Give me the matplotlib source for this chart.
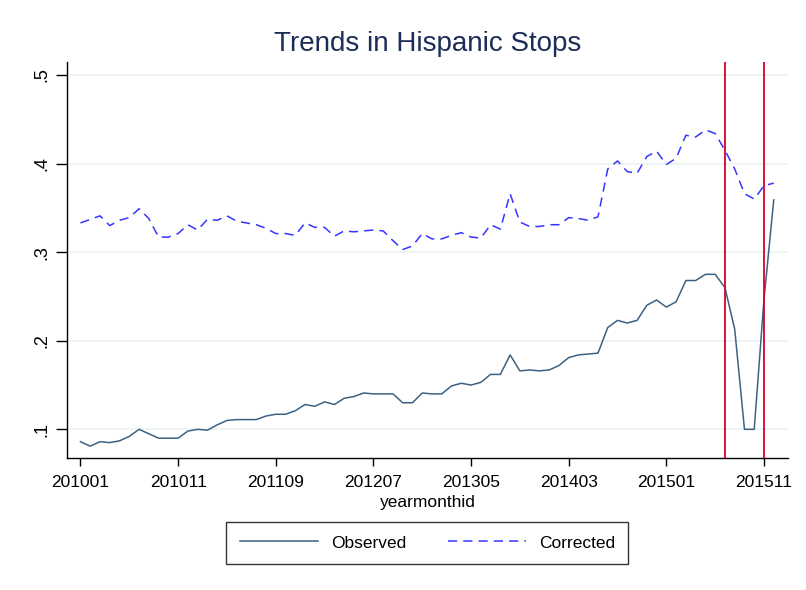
"""Hispanic stops: observed vs corrected monthly share, Stata-like styling."""
import matplotlib
matplotlib.use("Agg")
import matplotlib.pyplot as plt

plt.rcParams.update({
    "font.family": ["Liberation Sans", "DejaVu Sans"],
    "figure.dpi": 100,
    "savefig.dpi": 100,
})

# months 201001 .. 201512
yearmonthid = [y * 100 + m for y in range(2010, 2016) for m in range(1, 13)]

observed = [
    0.086, 0.081, 0.086, 0.085, 0.087, 0.092, 0.100, 0.095, 0.090, 0.090,
    0.090, 0.098, 0.100, 0.099, 0.105, 0.110, 0.111, 0.111, 0.111, 0.115,
    0.117, 0.117, 0.121, 0.128, 0.126, 0.131, 0.128, 0.135, 0.137, 0.141,
    0.140, 0.140, 0.140, 0.130, 0.130, 0.141, 0.140, 0.140, 0.149, 0.152,
    0.150, 0.153, 0.162, 0.162, 0.184, 0.166, 0.167, 0.166, 0.167, 0.172,
    0.181, 0.184, 0.185, 0.186, 0.215, 0.223, 0.220, 0.223, 0.240, 0.246,
    0.238, 0.244, 0.268, 0.268, 0.275, 0.275, 0.260, 0.213, 0.100, 0.100,
    0.247, 0.359,
]

corrected = [
    0.333, 0.337, 0.341, 0.330, 0.336, 0.339, 0.349, 0.338, 0.317, 0.317,
    0.321, 0.331, 0.325, 0.337, 0.336, 0.341, 0.335, 0.333, 0.331, 0.327,
    0.321, 0.321, 0.319, 0.333, 0.328, 0.328, 0.318, 0.324, 0.323, 0.324,
    0.325, 0.324, 0.313, 0.303, 0.307, 0.321, 0.315, 0.315, 0.319, 0.322,
    0.317, 0.316, 0.331, 0.326, 0.366, 0.334, 0.329, 0.329, 0.331, 0.331,
    0.339, 0.338, 0.336, 0.340, 0.394, 0.403, 0.391, 0.389, 0.408, 0.414,
    0.399, 0.406, 0.432, 0.430, 0.438, 0.434, 0.415, 0.394, 0.366, 0.360,
    0.375, 0.378,
]

event_months = [201507, 201511]
tick_months = [201001, 201011, 201109, 201207, 201305, 201403, 201501, 201511]
yticks = [0.1, 0.2, 0.3, 0.4, 0.5]
ytick_labels = [".1", ".2", ".3", ".4", ".5"]

x = list(range(len(yearmonthid)))
idx = {ym: i for i, ym in enumerate(yearmonthid)}

fig = plt.figure(figsize=(8.06, 5.90))
ax = fig.add_axes([0.0831, 0.2237, 0.8946, 0.6712])

for v in yticks:
    ax.axhline(v, color="#eaf2f3", linewidth=1.2, zorder=0)

ax.plot(x, observed, color="#3d6182", linewidth=1.1, label="Observed", zorder=3)
ax.plot(x, corrected, color="#3535ff", linewidth=1.1, linestyle=(0, (6, 4)),
        label="Corrected", zorder=3)
for ym in event_months:
    ax.axvline(idx[ym], color="#d8002c", linewidth=1.3, zorder=4)

ax.set_xlim(-1.38, 72.46)
ax.set_ylim(0.0676, 0.5147)

ax.set_xticks([idx[m] for m in tick_months])
ax.set_xticklabels([str(m) for m in tick_months], fontsize=12.5)
ax.set_yticks(yticks)
ax.set_yticklabels(ytick_labels, fontsize=13, rotation=90, va="center")
ax.tick_params(axis="x", direction="out", length=6, width=1, pad=6)
ax.tick_params(axis="y", direction="out", length=8, width=1, pad=4)

for side in ("top", "right"):
    ax.spines[side].set_visible(False)
for side in ("left", "bottom"):
    ax.spines[side].set_linewidth(1.0)

ax.set_xlabel("yearmonthid", fontsize=12.5, labelpad=4)
fig.text(0.530, 0.925, "Trends in Hispanic Stops", fontsize=20,
         color="#1c2d57", ha="center", va="center")

leg = fig.legend(loc="center", bbox_to_anchor=(0.530, 0.0797), ncol=2,
                 frameon=True, fancybox=False, fontsize=12.5,
                 handlelength=4.5, columnspacing=2.4, handletextpad=0.75,
                 borderpad=0.75)
leg.get_frame().set_edgecolor("black")
leg.get_frame().set_linewidth(1.0)

fig.savefig("out.png", facecolor="white")
